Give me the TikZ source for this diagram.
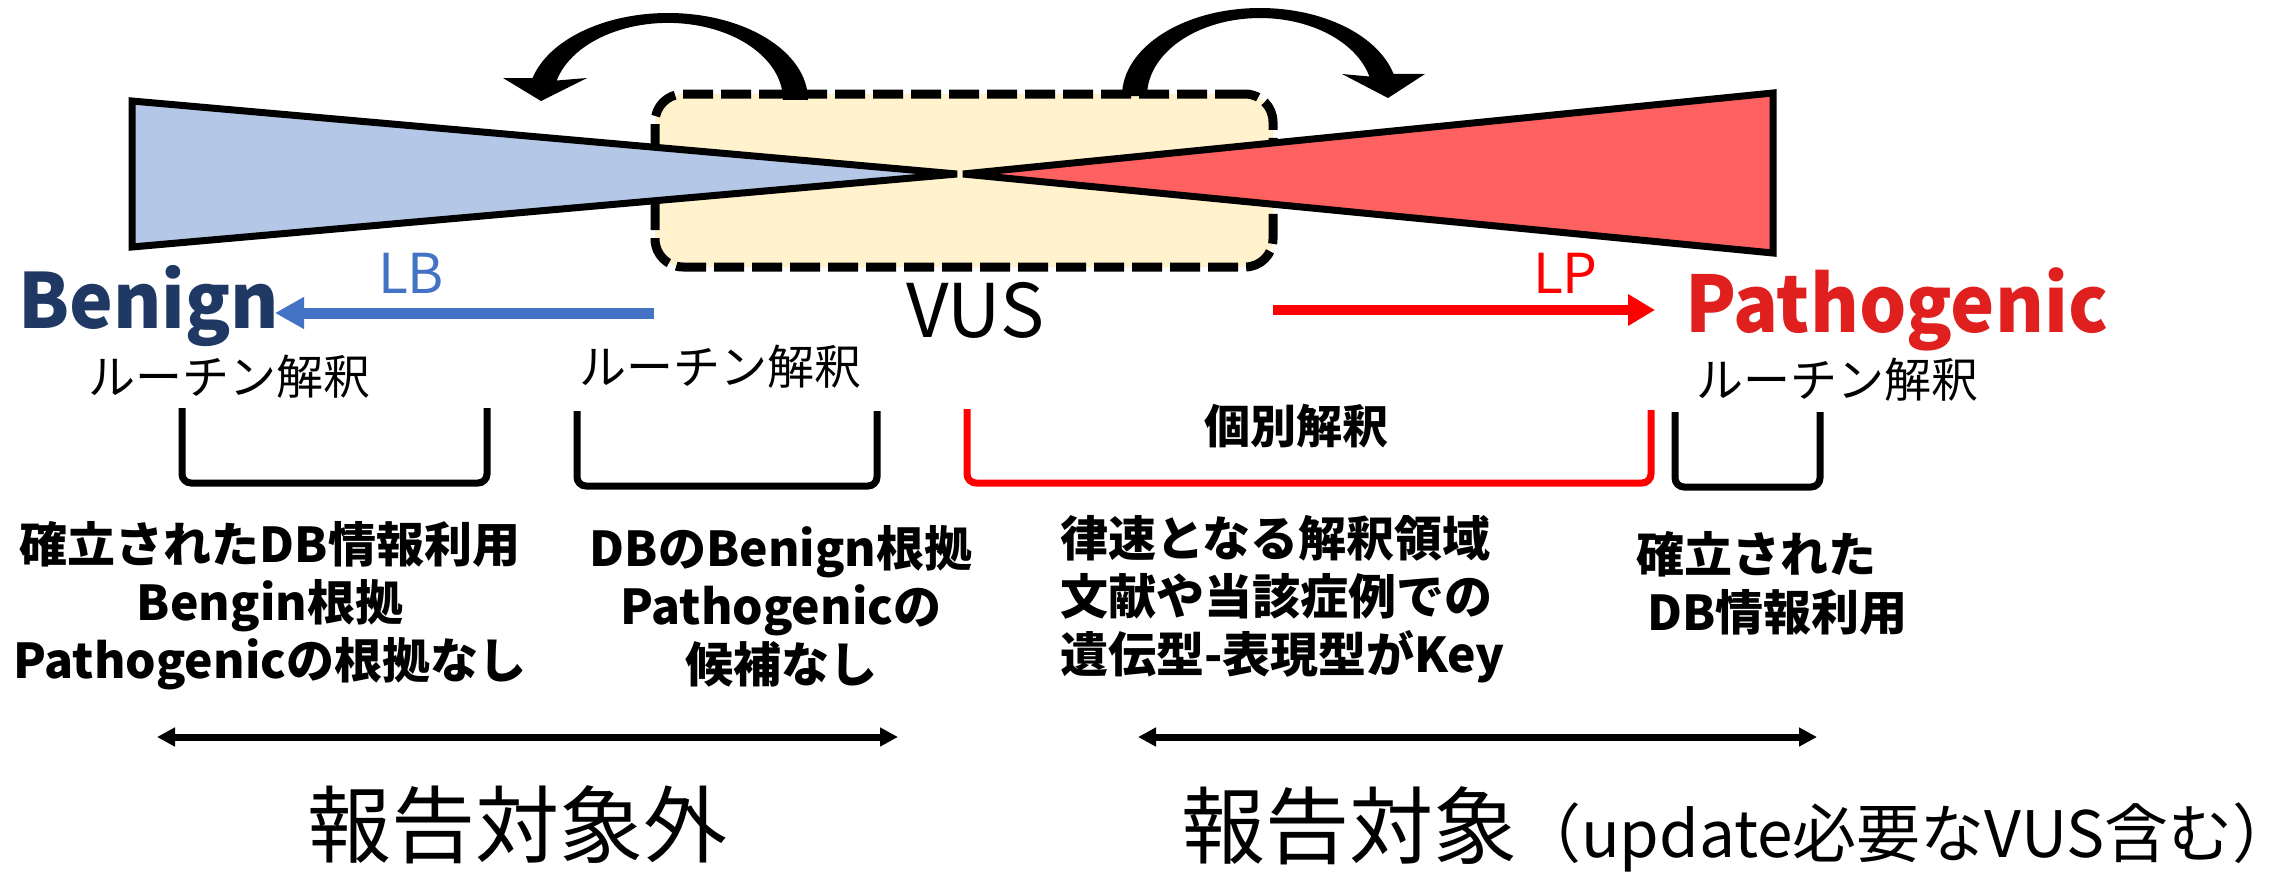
\documentclass[tikz,border=0pt]{standalone}
\usepackage{fontspec}
\usepackage{graphicx}
\setmainfont{Noto Sans CJK JP}
\usetikzlibrary{arrows.meta}
\definecolor{bluefill}{HTML}{B4C7E7}
\definecolor{redfill}{HTML}{FF6161}
\definecolor{vusfill}{HTML}{FFF2CC}
\definecolor{navy}{HTML}{203864}
\definecolor{lbblue}{HTML}{4472C4}
\definecolor{lpred}{HTML}{FF0000}
\definecolor{pathred}{HTML}{E0201E}
\newcommand{\fsz}[1]{\fontsize{#1}{#1}\selectfont}
\begin{document}
\begin{tikzpicture}[x=1pt,y=-1pt,
  txt/.style={inner sep=0pt, outer sep=0pt},
  tri/.style={draw=black, line width=7pt},
  bracket/.style={line width=7pt, rounded corners=9pt},
  rangearrow/.style={line width=7pt, {Triangle[length=18pt,width=18pt]}-{Triangle[length=18pt,width=18pt]}},
  routine/.style={txt, font=\fsz{47}},
  block/.style={txt, font=\bfseries\fontsize{48}{58}\selectfont},
  label/.style={txt, font=\fsz{55}}]
\useasboundingbox (0,0) rectangle (2292,873);
\fill[white] (0,0) rectangle (2292,873);

% VUS box
\node[draw=black, fill=vusfill, line width=9pt, dash pattern=on 30pt off 8pt,
      rounded corners=28pt, minimum width=618pt, minimum height=173pt, inner sep=0pt]
      (vusbox) at (964,180.5) {};

% triangles
\filldraw[tri, fill=bluefill] (132,101) -- (957,174) -- (132,247) -- cycle;
\filldraw[tri, fill=redfill] (1773,93) -- (963,174) -- (1773,253) -- cycle;

% curved arrows
\fill[black] (808,100) arc[start angle=0, end angle=-165.4, x radius=140, y radius=87]
  -- (503,78) -- (541,101) -- (587,78) -- (556.7,80.5)
  arc[start angle=-165.4, end angle=0, x radius=115, y radius=77] -- cycle;
\fill[black] (1122,96) arc[start angle=180, end angle=345.5, x radius=138, y radius=88]
  -- (1425,74) -- (1388,98) -- (1342,74) -- (1369.4,76.5)
  arc[start angle=345.5, end angle=180, x radius=113, y radius=78] -- cycle;

% headings
\node[txt, anchor=base west, font=\bfseries\fsz{76}, text=navy] (benign) at (18,328) {\scalebox{0.97}[1]{Benign}};
\node[txt, anchor=base west, font=\bfseries\fsz{78}, text=pathred] (patho) at (1685,332) {\scalebox{0.955}[1]{Pathogenic}};
\node[label, anchor=base west, text=lbblue] (lb) at (378,293) {LB};
\node[label, anchor=base west, text=lpred] (lp) at (1533,293) {LP};
\node[txt, anchor=base west, font=\fsz{74}] (vus) at (906,337) {VUS};

% horizontal arrows
\coordinate (lbstart) at (654,313);
\coordinate (lbend) at (275,313);
\draw[line width=11pt, lbblue, -{Triangle[length=29pt,width=30pt]}] (lbstart) -- (lbend);
\coordinate (lpstart) at (1273,310);
\coordinate (lpend) at (1655,310);
\draw[line width=10pt, lpred, -{Triangle[length=27pt,width=30pt]}] (lpstart) -- (lpend);

% routine labels
\node[routine] (r1) at (229,377) {ルーチン解釈};
\node[routine] (r2) at (720,367) {ルーチン解釈};
\node[routine] (r3) at (1837,380) {ルーチン解釈};
\node[txt, font=\bfseries\fsz{46}] (indiv) at (1296,426) {個別解釈};

% brackets
\draw[bracket] (182,408) -- (182,483) -- (487,483) -- (487,408);
\draw[bracket] (577,411) -- (577,486) -- (877,486) -- (877,411);
\draw[bracket, lpred] (967,409) -- (967,483) -- (1651,483) -- (1651,410);
\draw[bracket] (1675,412) -- (1675,487) -- (1820,487) -- (1820,412);

% blocks
\node[block, anchor=north, align=center] (b1) at (270,521) {確立されたDB情報利用\\Bengin根拠\\Pathogenicの根拠なし};
\node[block, anchor=north, align=center] (b2) at (781,525) {DBのBenign根拠\\Pathogenicの\\候補なし};
\node[block, anchor=north west, align=left] (b3) at (1060,515) {律速となる解釈領域\\文献や当該症例での\\遺伝型-表現型がKey};
\node[block, anchor=north west, align=left] (b4) at (1636,531) {確立された\\\hspace*{11pt}DB情報利用};

% range arrows
\coordinate (ra1) at (157,737);
\coordinate (rb1) at (898,737);
\draw[rangearrow] (ra1) -- (rb1);
\coordinate (ra2) at (1138,737);
\coordinate (rb2) at (1817,737);
\draw[rangearrow] (ra2) -- (rb2);

% bottom labels
\node[txt, anchor=base, font=\fsz{84}] (outside) at (517,856) {報告対象外};
\node[txt, anchor=base west, font=\fsz{84}] (inside) at (1181,857) {報告対象{\fsz{64}（update必要なVUS含む）}};
\end{tikzpicture}
\end{document}
